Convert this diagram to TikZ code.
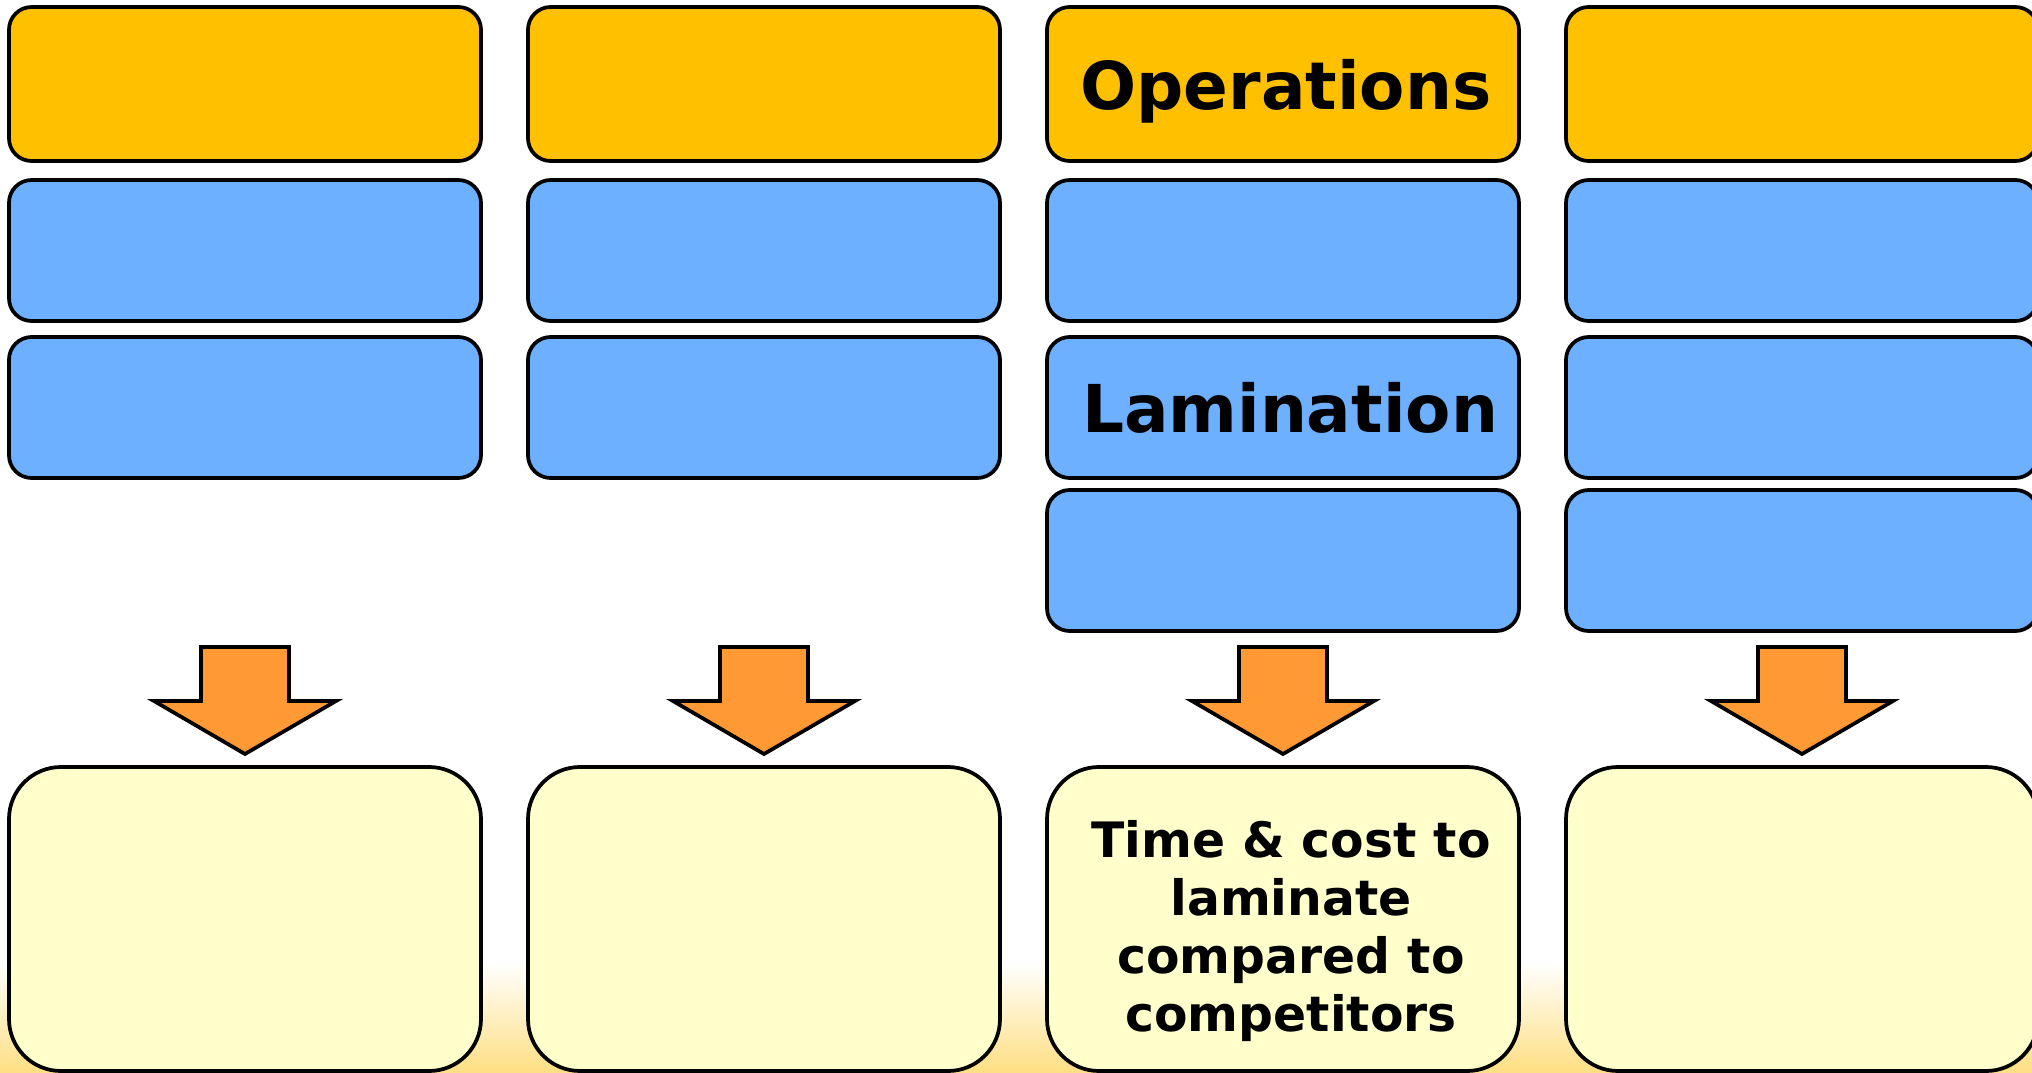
\documentclass[tikz,border=0pt]{standalone}
\usepackage{fontspec}
\setmainfont{DejaVu Sans}
\definecolor{headfill}{RGB}{255,192,0}
\definecolor{itemfill}{RGB}{108,176,255}
\definecolor{resultfill}{RGB}{255,255,204}
\definecolor{arrowfill}{RGB}{255,153,51}
\definecolor{glow}{RGB}{255,223,130}
\begin{document}
\begin{tikzpicture}[x=0.75pt,y=-0.75pt,
  box/.style={draw=black, line width=2.8pt, rounded corners=17pt,
    inner sep=0pt, outer sep=0pt, minimum width=354pt},
  head/.style={box, fill=headfill, minimum height=115.5pt},
  item/.style={box, fill=itemfill, minimum height=105.75pt},
  result/.style={box, fill=resultfill, rounded corners=39pt, minimum height=228pt},
  bigtext/.style={font=\bfseries\fontsize{49.5}{55}\selectfont, text depth=0pt, inner sep=0pt},
  smalltext/.style={font=\bfseries\fontsize{36.6}{43.5}\selectfont, align=center, inner sep=0pt},
  blockarrow/.style={draw=black, line width=2.8pt, fill=arrowfill, line join=miter}
]
\useasboundingbox (0,0) rectangle (2032,1073);
\clip (0,0) rectangle (2032,1073);

% warm glow along the bottom edge
\shade[top color=white, bottom color=glow] (0,962) rectangle (2032,1073);

% four columns: header, stacked items, block arrow, result box
\foreach \c/\cx in {1/245, 2/764, 3/1283, 4/1802} {
  \node[head] (h\c) at (\cx,84) {};
  \node[item] (a\c) at (\cx,250.5) {};
  \node[item] (b\c) at (\cx,407.5) {};
  \node[result] (r\c) at (\cx,919) {};
  \draw[blockarrow] (\cx-44,647) -- (\cx+44,647) -- (\cx+44,701) -- (\cx+91,701)
    -- (\cx,754) -- (\cx-91,701) -- (\cx-44,701) -- cycle;
}
% a fourth item in the last two columns
\node[item] (c3) at (1283,560.5) {};
\node[item] (c4) at (1802,560.5) {};

% labels
\node[bigtext] (ops) at (1286,84) {Operations};
\node[bigtext] (lam) at (1290,407.5) {Lamination};
\node[smalltext] (cost) at (1291,931) {Time \& cost to\\laminate\\compared to\\competitors};
\end{tikzpicture}
\end{document}
